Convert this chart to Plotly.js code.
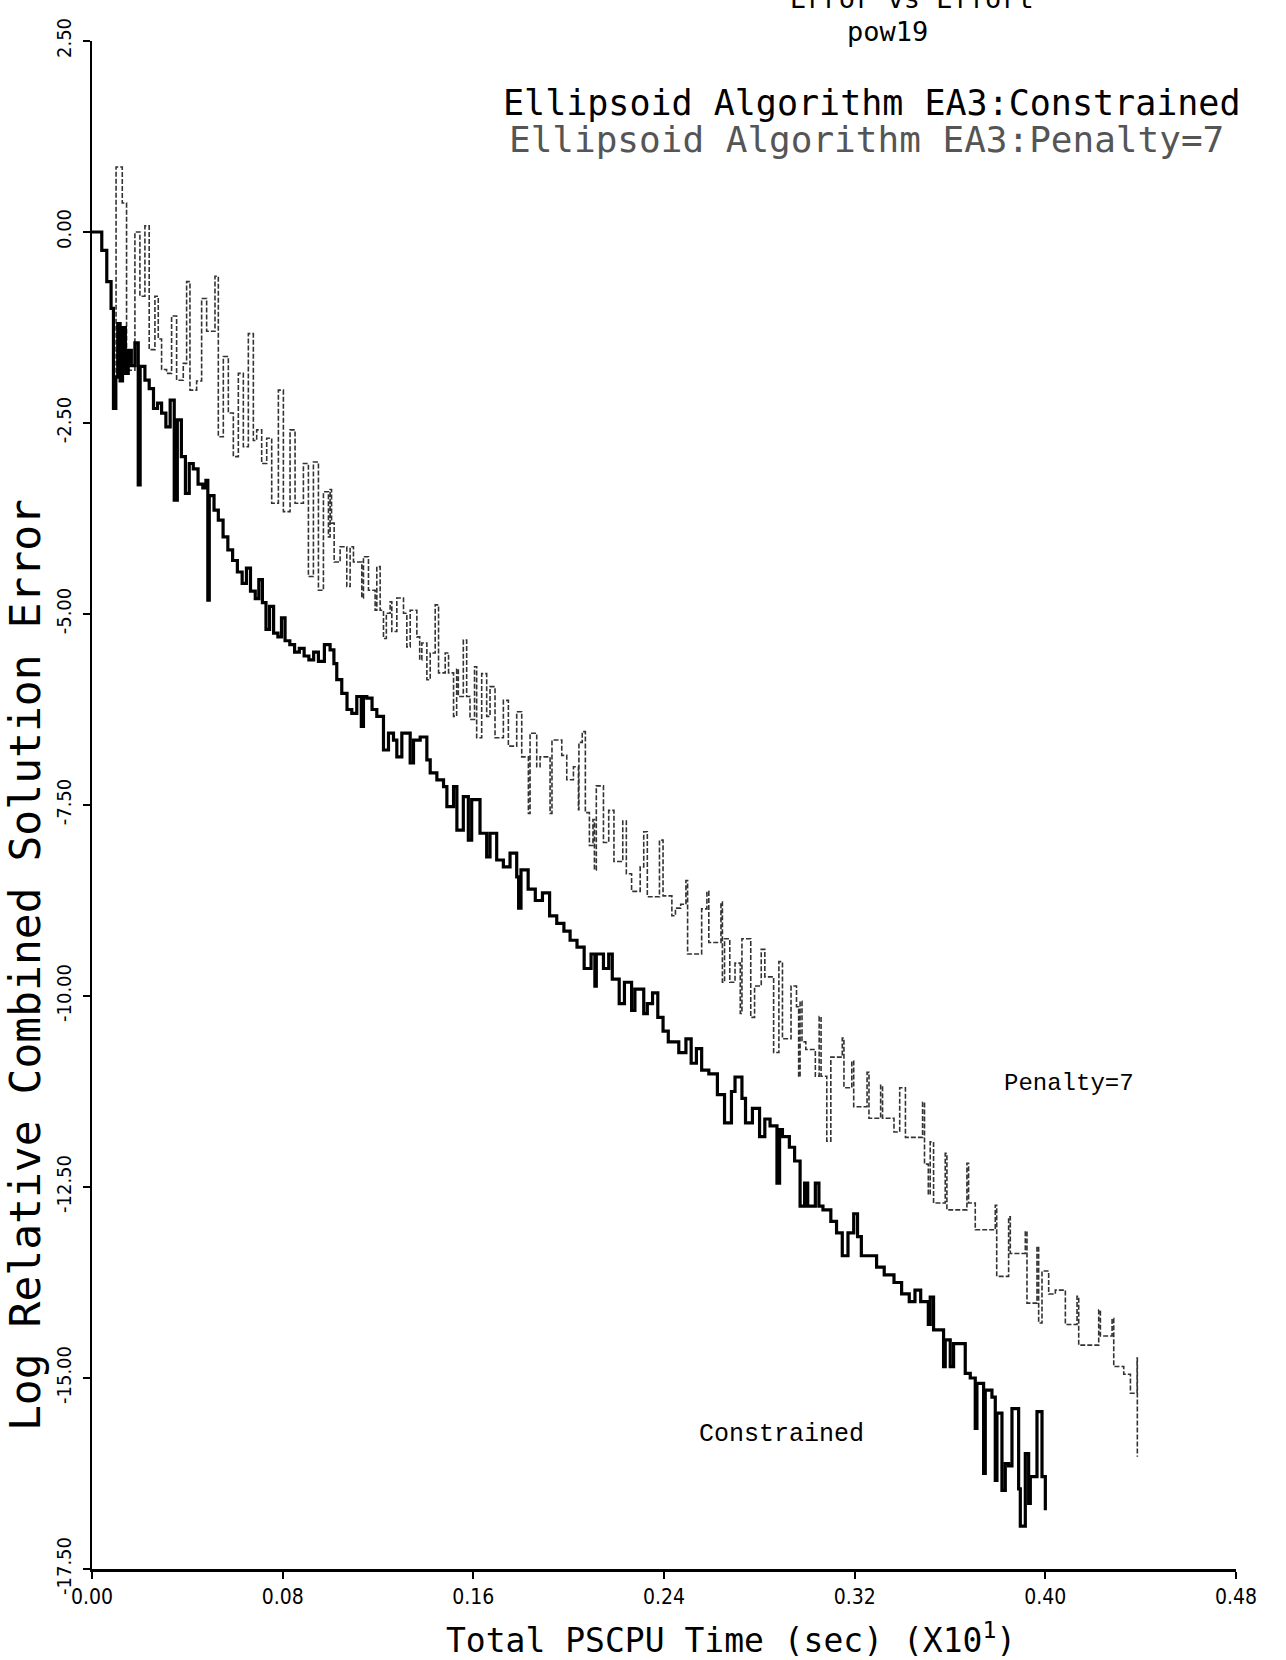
<!DOCTYPE html>
<html>
<head>
<meta charset="utf-8">
<script src="https://cdn.plot.ly/plotly-3.0.1.min.js"></script>
<style>
  html, body { margin: 0; padding: 0; background: #ffffff; }
  #chart { width: 1286px; height: 1660px; }
</style>
</head>
<body>
<div id="chart"></div>
<script>
// ---- Data ----
const constrainedX = [
  0, 0.0041, 0.0062, 0.0080, 0.0090, 0.0100, 0.0108, 0.0118, 0.0128, 0.0140,
  0.0152, 0.0165, 0.0180, 0.0194, 0.0202, 0.0222, 0.0240, 0.0258, 0.0275, 0.0292,
  0.0310, 0.0328, 0.0345, 0.0358, 0.0375, 0.0392, 0.0408, 0.0425, 0.0445, 0.0465,
  0.0478, 0.0486, 0.0492, 0.0512, 0.0530, 0.0550, 0.0570, 0.0590, 0.0610, 0.0630,
  0.0648, 0.0665, 0.0685, 0.0700, 0.0715, 0.0730, 0.0745, 0.0762, 0.0780, 0.0795,
  0.0810, 0.0830, 0.0850, 0.0870, 0.0890, 0.0910, 0.0930, 0.0950, 0.0975,
  0.0999, 0.1015, 0.1027, 0.1048, 0.1070, 0.1090, 0.1111, 0.1130, 0.1139, 0.1153,
  0.1175, 0.1195, 0.1223, 0.1244, 0.1265, 0.1279, 0.1300, 0.1335, 0.1349, 0.1377,
  0.1405, 0.1419, 0.1447, 0.1475, 0.1489, 0.1517, 0.1531, 0.1558, 0.1579, 0.1593,
  0.1628, 0.1656, 0.1670, 0.1698, 0.1726, 0.1754, 0.1782, 0.1790, 0.1800, 0.1830,
  0.1860, 0.1890, 0.1920, 0.1950, 0.1980,
  0.2006, 0.2035, 0.2065, 0.2094, 0.2110, 0.2116, 0.2146, 0.2168, 0.2183, 0.2212,
  0.2234, 0.2264, 0.2278, 0.2315, 0.2330, 0.2352, 0.2374, 0.2396, 0.2418, 0.2462,
  0.2492, 0.2514, 0.2536, 0.2558, 0.2588, 0.2624, 0.2654, 0.2683, 0.2698, 0.2727,
  0.2742, 0.2771, 0.2801, 0.2823, 0.2845, 0.2874, 0.2885, 0.2897, 0.2926, 0.2948,
  0.2971, 0.2990, 0.3003, 0.3035, 0.3050, 0.3067, 0.3100, 0.3124, 0.3148, 0.3172,
  0.3196, 0.3212, 0.3228, 0.3292, 0.3324, 0.3365, 0.3397, 0.3429, 0.3453, 0.3477,
  0.3509, 0.3517,
  0.3531, 0.3573, 0.3580, 0.3601, 0.3615, 0.3664, 0.3685, 0.3706, 0.3713, 0.3741,
  0.3748, 0.3776, 0.3790, 0.3797, 0.3818, 0.3832, 0.3846, 0.3860, 0.3888, 0.3895,
  0.3916, 0.3930, 0.3937, 0.3965, 0.3986, 0.4000
];
const constrainedY = [
  0.00, -0.24, -0.65, -1.00, -2.31, -1.90, -1.20, -1.95, -1.25, -1.85,
  -1.55, -1.75, -1.45, -3.31, -1.76, -1.94, -2.05, -2.31, -2.24, -2.37,
  -2.55, -2.20, -3.51, -2.46, -2.94, -3.42, -3.03, -3.10, -3.30, -3.35,
  -3.25, -4.82, -3.45, -3.64, -3.77, -3.99, -4.16, -4.30, -4.45, -4.60,
  -4.40, -4.70, -4.80, -4.55, -4.85, -5.20, -4.90, -5.25, -5.30, -5.05,
  -5.35, -5.40, -5.50, -5.45, -5.55, -5.60, -5.50, -5.62, -5.40,
  -5.47, -5.65, -5.86, -6.04, -6.25, -6.30, -6.08, -6.47, -6.08, -6.10,
  -6.25, -6.34, -6.78, -6.56, -6.65, -6.87, -6.56, -6.95, -6.65, -6.61,
  -6.91, -7.08, -7.17, -7.26, -7.52, -7.26, -7.83, -7.39, -7.96, -7.43,
  -7.87, -8.18, -7.87, -8.22, -8.31, -8.13, -8.44, -8.85, -8.35, -8.60,
  -8.75, -8.65, -8.95, -9.05, -9.15,
  -9.27, -9.36, -9.64, -9.45, -9.87, -9.45, -9.64, -9.45, -9.78, -10.10,
  -9.82, -10.19, -9.91, -10.23, -10.10, -9.96, -10.28, -10.46, -10.60, -10.74,
  -10.56, -10.88, -10.69, -10.97, -11.02, -11.29, -11.66, -11.25, -11.06, -11.34,
  -11.66, -11.47, -11.84, -11.61, -11.70, -12.45, -11.75, -11.84, -11.98, -12.16,
  -12.75, -12.45, -12.75, -12.45, -12.75, -12.80, -12.95, -13.10, -13.40, -13.10,
  -12.85, -13.15, -13.40, -13.55, -13.65, -13.75, -13.90, -14.00, -13.85, -14.00,
  -14.30, -13.94,
  -14.37, -14.85, -14.50, -14.85, -14.55, -14.94, -15.00, -15.66, -15.07, -16.25,
  -15.16, -15.25, -16.34, -15.46, -16.47, -16.12, -16.15, -15.40, -16.45, -16.94,
  -15.99, -16.64, -16.29, -15.44, -16.29, -16.73
];

const penaltyX = [
  0.0095, 0.0101, 0.0127, 0.0145, 0.0180, 0.0201, 0.0222, 0.0240, 0.0264, 0.0278,
  0.0292, 0.0313, 0.0334, 0.0355, 0.0383, 0.0397, 0.0411, 0.0439, 0.0460, 0.0481,
  0.0516, 0.0530, 0.0551, 0.0572, 0.0593, 0.0614, 0.0635, 0.0656, 0.0677, 0.0691,
  0.0712, 0.0733, 0.0754, 0.0782, 0.0803, 0.0831, 0.0852, 0.0887, 0.0908, 0.0929,
  0.0950, 0.0971, 0.0992,
  0.0999, 0.1005, 0.1016, 0.1041, 0.1069, 0.1083, 0.1097, 0.1132, 0.1139, 0.1160,
  0.1188, 0.1195, 0.1209, 0.1223, 0.1235, 0.1251, 0.1258, 0.1279, 0.1307, 0.1321,
  0.1335, 0.1363, 0.1375, 0.1384, 0.1405, 0.1419, 0.1440, 0.1454, 0.1482, 0.1496,
  0.1517, 0.1530, 0.1537, 0.1558, 0.1572, 0.1586, 0.1605, 0.1614, 0.1635, 0.1656,
  0.1670, 0.1691, 0.1726, 0.1747, 0.1782, 0.1803, 0.1831, 0.1838, 0.1866, 0.1880,
  0.1922, 0.1930, 0.1971, 0.1992, 0.2020, 0.2041,
  0.2043, 0.2057, 0.2070, 0.2087, 0.2102, 0.2108, 0.2116, 0.2146, 0.2168, 0.2190,
  0.2227, 0.2242, 0.2264, 0.2300, 0.2315, 0.2330, 0.2381, 0.2396, 0.2433, 0.2448,
  0.2470, 0.2492, 0.2499, 0.2558, 0.2580, 0.2588, 0.2639, 0.2645, 0.2654, 0.2676,
  0.2698, 0.2720, 0.2727, 0.2764, 0.2780, 0.2808, 0.2823, 0.2860, 0.2882, 0.2897,
  0.2933, 0.2956, 0.2965,
  0.2971, 0.2979, 0.2995, 0.3035, 0.3051, 0.3059, 0.3083, 0.3100, 0.3148, 0.3155,
  0.3188, 0.3196, 0.3252, 0.3260, 0.3309, 0.3317, 0.3365, 0.3389, 0.3413, 0.3485,
  0.3493, 0.3509,
  0.3517, 0.3531, 0.3580, 0.3587, 0.3671, 0.3678, 0.3706, 0.3790, 0.3796, 0.3846,
  0.3853, 0.3916, 0.3923, 0.3965, 0.3972, 0.3986, 0.4014, 0.4042, 0.4084, 0.4133,
  0.4140, 0.4224, 0.4231, 0.4280, 0.4287, 0.4329, 0.4357, 0.4385, 0.4386
];
const penaltyY = [
  -2.10, 0.85, 0.38, -1.81, 0.00, -0.84, 0.08, -1.54, -0.84, -1.40,
  -1.80, -1.85, -1.10, -1.94, -1.72, -0.65, -2.07, -1.95, -0.87, -1.30,
  -0.58, -2.68, -1.63, -2.37, -2.94, -1.85, -2.81, -1.33, -2.73, -2.59,
  -3.03, -2.70, -3.55, -2.07, -3.66, -2.59, -3.55, -3.03, -4.51, -3.01,
  -4.69, -3.40, -3.99,
  -3.37, -3.81, -4.32, -4.12, -4.64, -4.12, -4.32, -4.79, -4.25, -4.69,
  -4.95, -4.38, -4.95, -5.32, -4.99, -4.84, -5.23, -4.79, -4.99, -5.43,
  -4.95, -5.30, -5.60, -5.38, -5.86, -5.51, -4.88, -5.77, -5.51, -5.77,
  -6.34, -5.72, -6.08, -5.34, -6.08, -6.38, -5.69, -6.62, -5.78, -6.34,
  -5.95, -6.62, -6.13, -6.73, -6.28, -6.87, -7.61, -6.56, -7.00, -6.87,
  -7.61, -6.65, -6.85, -7.17, -7.00, -7.56,
  -6.68, -6.54, -7.60, -8.03, -7.69, -8.35, -7.25, -7.99, -7.57, -8.24,
  -7.71, -8.40, -8.63, -8.31, -7.85, -8.70, -7.96, -8.69, -8.95, -8.85,
  -8.80, -8.49, -9.45, -8.86, -8.63, -9.30, -8.77, -9.82, -9.25, -9.82,
  -9.57, -10.23, -9.25, -10.28, -9.87, -9.39, -9.75, -10.74, -9.55, -10.56,
  -9.87, -10.14, -11.06,
  -10.07, -10.60, -10.70, -11.05, -10.27, -11.05, -11.90, -10.80, -10.55, -11.20,
  -10.85, -11.45, -11.00, -11.60, -11.17, -11.60, -11.78, -11.20, -11.85, -11.39,
  -12.20, -12.60,
  -11.91, -12.71, -12.06, -12.80, -12.19, -12.71, -13.06, -12.74, -13.67, -12.89,
  -13.37, -13.08, -14.02, -13.28, -14.28, -13.60, -13.90, -13.85, -14.30, -13.93,
  -14.57, -14.11, -14.45, -14.22, -14.85, -14.95, -15.20, -14.74, -16.03
];

const xTickVals = [0, 0.08, 0.16, 0.24, 0.32, 0.40, 0.48];
const xTickText = ["0.00", "0.08", "0.16", "0.24", "0.32", "0.40", "0.48"];
const yTickVals = [2.5, 0, -2.5, -5, -7.5, -10, -12.5, -15, -17.5];
const yTickText = ["2.50", "0.00", "-2.50", "-5.00", "-7.50", "-10.00", "-12.50", "-15.00", "-17.50"];

const MONO = "DejaVu Sans Mono, monospace";
const TICKF = "DejaVu Sans Condensed, DejaVu Sans, sans-serif";

const traces = [
  {
    x: penaltyX, y: penaltyY, type: "scatter", mode: "lines",
    name: "Ellipsoid Algorithm EA3:Penalty=7",
    line: { shape: "hv", color: "#333333", width: 1.6, dash: "5px,2px" },
    hoverinfo: "x+y"
  },
  {
    x: constrainedX, y: constrainedY, type: "scatter", mode: "lines",
    name: "Ellipsoid Algorithm EA3:Constrained",
    line: { shape: "hv", color: "#000000", width: 3.2 },
    hoverinfo: "x+y"
  }
];

const layout = {
  width: 1286, height: 1660,
  paper_bgcolor: "#ffffff", plot_bgcolor: "#ffffff",
  showlegend: false,
  margin: { l: 92, r: 50, t: 41, b: 91, pad: 0 },
  font: { family: MONO, color: "#000000" },
  xaxis: {
    range: [0, 0.48], tickvals: xTickVals, ticktext: xTickText,
    showgrid: false, zeroline: false,
    showline: true, linecolor: "#000000", linewidth: 2.5,
    ticks: "outside", ticklen: 7, tickwidth: 2, tickcolor: "#000000",
    tickfont: { family: TICKF, size: 21, color: "#000000" }
  },
  yaxis: {
    range: [-17.5, 2.5], tickvals: yTickVals, ticktext: yTickText,
    showgrid: false, zeroline: false,
    showline: true, linecolor: "#000000", linewidth: 2.5,
    ticks: "outside", ticklen: 7, tickwidth: 2, tickcolor: "#000000",
    tickangle: -90, ticklabelstandoff: 4,
    tickfont: { family: TICKF, size: 20, color: "#000000" }
  },
  annotations: [
    { text: "Error vs Effort", xref: "paper", yref: "paper", x: 0.7168, y: 1.0281,
      xanchor: "center", yanchor: "middle", showarrow: false, font: { family: MONO, size: 27 } },
    { text: "pow19", xref: "paper", yref: "paper", x: 0.6958, y: 1.0059,
      xanchor: "center", yanchor: "middle", showarrow: false, font: { family: MONO, size: 27 } },
    { text: "Ellipsoid Algorithm EA3:Constrained", xref: "paper", yref: "paper", x: 0.6818, y: 0.9595,
      xanchor: "center", yanchor: "middle", showarrow: false, font: { family: MONO, size: 35, color: "#000000" } },
    { text: "Ellipsoid Algorithm EA3:Penalty=7", xref: "paper", yref: "paper", x: 0.6766, y: 0.9355,
      xanchor: "center", yanchor: "middle", showarrow: false, font: { family: MONO, size: 36, color: "#555555" } },
    { text: "Penalty=7", xref: "paper", yref: "paper", x: 0.854, y: 0.318,
      xanchor: "center", yanchor: "middle", showarrow: false, font: { family: "Liberation Mono, monospace", size: 24, color: "#000000" } },
    { text: "Constrained", xref: "paper", yref: "paper", x: 0.6031, y: 0.0877,
      xanchor: "center", yanchor: "middle", showarrow: false, font: { family: "Liberation Mono, monospace", size: 25, color: "#000000" } },
    { text: "Log Relative Combined Solution Error", xref: "paper", yref: "paper", x: -0.0585, y: 0.3953,
      xanchor: "center", yanchor: "middle", textangle: -90, showarrow: false, font: { family: MONO, size: 43, color: "#000000" } },
    { text: "Total PSCPU Time (sec) (X10<sup>1</sup>)", xref: "paper", yref: "paper", x: 0.5586, y: -0.0452,
      xanchor: "center", yanchor: "middle", showarrow: false, font: { family: MONO, size: 33, color: "#000000" } }
  ]
};

Plotly.newPlot("chart", traces, layout, { displayModeBar: false, staticPlot: true });
</script>
</body>
</html>
